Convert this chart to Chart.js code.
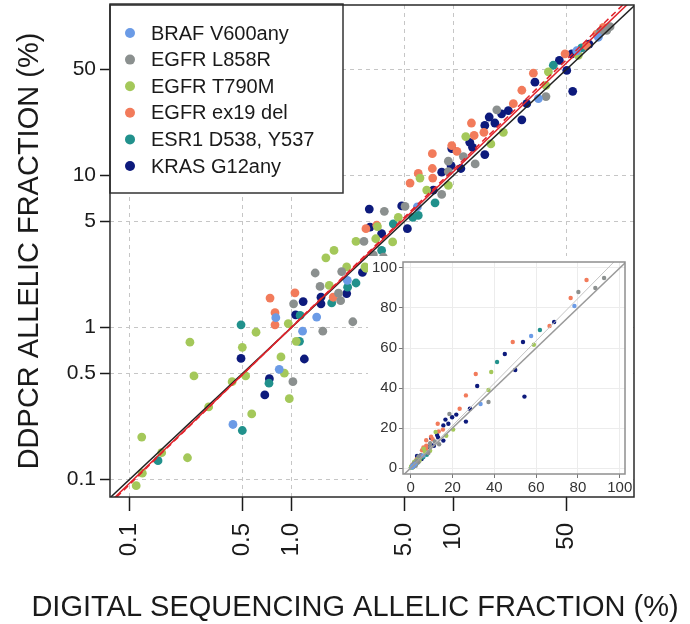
<!DOCTYPE html>
<html>
<head>
<meta charset="utf-8">
<script src="https://cdn.jsdelivr.net/npm/chart.js@4.4.0/dist/chart.umd.min.js"></script>
<style>
  html, body { margin: 0; padding: 0; background: #fff; }
  #wrap { position: relative; width: 690px; height: 624px; }
  #mainChart { position: absolute; left: 0; top: 0; }
  #insetBox { position: absolute; left: 368px; top: 256px; width: 265px; height: 240px; background: #fff; }
</style>
</head>
<body>
<div id="wrap">
  <canvas id="mainChart" width="690" height="624"></canvas>
  <div id="insetBox"><canvas id="insetChart" width="265" height="240"></canvas></div>
</div>
<script>
// values (percent)
const brafX = [0.435, 0.80, 1.43, 1.17, 0.84, 2.21, 5.98, 33.4, 57.6, 78.3];
const brafY = [0.23, 1.16, 1.17, 0.945, 0.53, 2.04, 6.2, 32, 66, 81];

const l858rX = [1.40, 2.04, 1.50, 1.95, 2.01, 1.03, 1.56, 2.39, 1.02, 3.74, 2.80, 18.5, 11.5, 13.6, 9.29, 9.29, 8.45, 5.02, 37.2, 80.2, 92.5, 88.3, 3.20, 3.69];
const l858rY = [2.28, 2.33, 1.86, 1.68, 1.50, 1.43, 0.945, 1.09, 0.44, 5.8, 3.68, 27, 13.3, 11.9, 12.4, 10.6, 7.5, 6.25, 33, 88, 95, 90, 3.0, 2.9];

const t790mX = [0.604, 0.236, 0.497, 0.25, 0.43, 0.521, 0.308, 0.568, 0.119, 0.228, 0.158, 0.12, 0.110, 2.19, 2.84, 1.71, 0.955, 1.07, 0.861, 0.903, 0.969, 3.39, 3.31, 2.50, 1.83, 1.63, 2.88, 11.9, 20.3, 17.0, 6.21, 9.29, 6.83, 4.56, 4.21, 38.5, 58.9, 37.2];
const t790mY = [0.93, 0.80, 0.74, 0.48, 0.44, 0.48, 0.30, 0.27, 0.19, 0.139, 0.15, 0.11, 0.091, 2.5, 2.5, 1.89, 1.06, 0.81, 0.64, 0.50, 0.34, 4.6, 3.83, 3.68, 3.21, 2.87, 2.45, 18.0, 19.2, 16.1, 9.6, 8.6, 8.0, 5.3, 3.65, 48, 61.6, 39];

const ex19X = [0.737, 1.05, 1.81, 0.791, 0.791, 2.88, 3.36, 12.9, 13.4, 15.4, 9.75, 10.5, 7.40, 7.40, 6.06, 7.44, 5.39, 48.8, 31.1, 26.4, 23.4, 66.4, 76.5, 84.1];
const ex19Y = [1.56, 1.69, 1.58, 1.25, 1.04, 4.46, 4.7, 22.1, 18.3, 19.2, 15.7, 14.4, 13.9, 11.1, 10.3, 9.6, 8.9, 63, 47, 36.3, 29.6, 71, 85, 94];

const esr1X = [0.488, 0.726, 0.497, 0.150, 2.50, 2.22, 1.77, 1.13, 1.12, 3.60, 4.25, 7.69, 6.06, 5.60, 41.3, 61.8];
const esr1Y = [1.04, 0.43, 0.21, 0.133, 1.96, 1.84, 1.45, 1.20, 0.81, 3.21, 4.8, 6.6, 5.45, 5.3, 53, 69];

const krasX = [0.488, 0.73, 0.684, 2.74, 2.19, 1.52, 1.52, 1.18, 1.06, 1.20, 3.02, 3.05, 3.60, 16.6, 15.6, 18.0, 19.8, 12.6, 13.1, 9.75, 15.6, 11.1, 9.66, 8.45, 7.50, 4.79, 5.19, 54.4, 45.0, 53.7, 31.8, 28.3, 26.4, 21.8, 50.0, 68.6];
const krasY = [0.625, 0.46, 0.36, 2.3, 1.67, 1.58, 1.43, 1.48, 1.21, 0.62, 6.0, 4.57, 4.14, 24.2, 21.3, 22.1, 25.4, 16.5, 15.3, 15.0, 13.7, 11.1, 11.6, 10.5, 8.0, 6.3, 4.46, 35.7, 57, 63, 41, 29.6, 23.2, 26.7, 49, 73];

// identity and fitted lines (end points)
const diagX = [0.05, 200];
const diagY = [0.05, 200];
const fitX = [0.05, 200];
const fitY = [0.0464, 228.3];
const fitDashX = [0.05, 200];
const fitDashY = [0.0452, 243.4];

const insetDiagX = [-5, 110];
const insetDiagY = [-5, 110];
const insetFitX = [-5, 110];
const insetFitY = [-5.3, 116.6];

const xTickVals = [0.1, 0.5, 1, 5, 10, 50];
const xTickText = ['0.1', '0.5', '1.0', '5.0', '10', '50'];
const yTickVals = [0.1, 0.5, 1, 5, 10, 50];
const yTickText = ['0.1', '0.5', '1', '5', '10', '50'];
const insetTicks = [0, 20, 40, 60, 80, 100];

const FONT = "'Liberation Sans', Arial, Helvetica, sans-serif";
Chart.defaults.font.family = FONT;
Chart.defaults.color = '#1a1a1a';

const series = [
  {label: 'BRAF V600any', xs: brafX, ys: brafY, color: '#6b9be6'},
  {label: 'EGFR L858R', xs: l858rX, ys: l858rY, color: '#8b908f'},
  {label: 'EGFR T790M', xs: t790mX, ys: t790mY, color: '#a4c85a'},
  {label: 'EGFR ex19 del', xs: ex19X, ys: ex19Y, color: '#f27b5b'},
  {label: 'ESR1 D538, Y537', xs: esr1X, ys: esr1Y, color: '#21918c'},
  {label: 'KRAS G12any', xs: krasX, ys: krasY, color: '#0d1a7c'}
];

function toPoints(xs, ys) {
  return xs.map((x, i) => ({x: x, y: ys[i]}));
}

// keep the plot box where it is, label overhang is not needed
function noOverhang(scale) {
  scale.paddingTop = 0;
  scale.paddingBottom = 0;
  scale.paddingLeft = 0;
  scale.paddingRight = 0;
}

const framePlugin = {
  id: 'frame',
  afterDraw(chart, args, opts) {
    const {ctx, chartArea: a} = chart;
    ctx.save();
    ctx.strokeStyle = opts.color;
    ctx.lineWidth = opts.width;
    ctx.strokeRect(a.left, a.top, a.right - a.left, a.bottom - a.top);
    ctx.restore();
  }
};

const boxLegend = {
  id: 'boxLegend',
  afterDatasetsDraw(chart, args, opts) {
    if (!opts.show) return;
    const {ctx, chartArea: a} = chart;
    const items = chart.data.datasets.filter(d => d.inLegend);
    ctx.save();
    ctx.fillStyle = '#fff';
    ctx.fillRect(a.left, a.top - 1, opts.width, opts.height);
    ctx.strokeStyle = '#333';
    ctx.lineWidth = 1.5;
    ctx.strokeRect(a.left, a.top - 1, opts.width, opts.height);
    ctx.font = opts.fontSize + 'px ' + FONT;
    ctx.textBaseline = 'middle';
    ctx.textAlign = 'left';
    items.forEach((d, i) => {
      const y = a.top + opts.firstRow + i * opts.rowGap;
      ctx.fillStyle = d.backgroundColor;
      ctx.beginPath();
      ctx.arc(a.left + 20, y, 5, 0, Math.PI * 2);
      ctx.fill();
      ctx.fillStyle = '#1a1a1a';
      ctx.fillText(d.label, a.left + 41, y + 1);
    });
    ctx.restore();
  }
};

const axisTitles = {
  id: 'axisTitles',
  afterDraw(chart, args, opts) {
    if (!opts.show) return;
    const ctx = chart.ctx;
    ctx.save();
    ctx.fillStyle = '#1a1a1a';
    ctx.textAlign = 'center';
    ctx.textBaseline = 'middle';
    ctx.font = opts.xSize + 'px ' + FONT;
    ctx.fillText(opts.xText, opts.xAt[0], opts.xAt[1]);
    ctx.translate(opts.yAt[0], opts.yAt[1]);
    ctx.rotate(-Math.PI / 2);
    ctx.font = opts.ySize + 'px ' + FONT;
    ctx.fillText(opts.yText, 0, 0);
    ctx.restore();
  }
};

const mainSets = series.map(s => ({
  label: s.label,
  data: toPoints(s.xs, s.ys),
  backgroundColor: s.color,
  borderWidth: 0,
  pointRadius: 4.4,
  inLegend: true,
  order: 2
}));
mainSets.push(
  {type: 'line', label: 'identity', data: toPoints(diagX, diagY), borderColor: '#222', borderWidth: 1.5, pointRadius: 0, order: 1},
  {type: 'line', label: 'fit', data: toPoints(fitX, fitY), borderColor: '#e0232b', borderWidth: 1.5, pointRadius: 0, order: 0},
  {type: 'line', label: 'fit2', data: toPoints(fitDashX, fitDashY), borderColor: '#e0232b', borderWidth: 1.5, borderDash: [6, 4], pointRadius: 0, order: 0}
);

new Chart(document.getElementById('mainChart'), {
  type: 'scatter',
  data: {datasets: mainSets},
  options: {
    responsive: false,
    animation: false,
    layout: {padding: {top: 5, right: 56, left: 0, bottom: 0}},
    plugins: {
      legend: {display: false},
      tooltip: {enabled: false},
      frame: {color: '#2a2a2a', width: 1.5},
      boxLegend: {show: true, width: 233, height: 189, firstRow: 28, rowGap: 26.6, fontSize: 20},
      axisTitles: {
        show: true,
        xText: 'DIGITAL SEQUENCING ALLELIC FRACTION (%)', xSize: 29, xAt: [355, 608],
        yText: 'DDPCR ALLELIC FRACTION (%)', ySize: 29, yAt: [30, 251]
      }
    },
    scales: {
      x: {
        type: 'logarithmic',
        min: 0.0758,
        max: 130,
        afterBuildTicks: (axis) => { axis.ticks = xTickVals.map(v => ({value: v})); },
        afterFit: (scale) => { scale.height = 127; noOverhang(scale); },
        ticks: {
          autoSkip: false,
          minRotation: 90,
          maxRotation: 90,
          padding: 12,
          color: '#1a1a1a',
          font: {size: 24},
          callback: (value, index) => xTickText[index]
        },
        grid: {color: '#c6c6c6', lineWidth: 1, tickColor: '#1a1a1a', tickLength: 14, tickWidth: 1.5},
        border: {display: false, dash: [4, 4]}
      },
      y: {
        type: 'logarithmic',
        min: 0.0767,
        max: 132,
        afterBuildTicks: (axis) => { axis.ticks = yTickVals.map(v => ({value: v})); },
        afterFit: (scale) => { scale.width = 110; noOverhang(scale); },
        ticks: {
          autoSkip: false,
          padding: 4,
          color: '#1a1a1a',
          font: {size: 21},
          callback: (value, index) => yTickText[index]
        },
        grid: {color: '#c6c6c6', lineWidth: 1, tickColor: '#1a1a1a', tickLength: 10, tickWidth: 1.5},
        border: {display: false, dash: [4, 4]}
      }
    }
  },
  plugins: [framePlugin, boxLegend, axisTitles]
});

const insetSets = series.map(s => ({
  label: s.label,
  data: toPoints(s.xs, s.ys),
  backgroundColor: s.color,
  borderWidth: 0,
  pointRadius: 2.2,
  order: 2
}));
insetSets.push(
  {type: 'line', label: 'identity', data: toPoints(insetDiagX, insetDiagY), borderColor: '#9a9a9a', borderWidth: 1.5, pointRadius: 0, order: 1},
  {type: 'line', label: 'fit', data: toPoints(insetFitX, insetFitY), borderColor: '#c4c4c4', borderWidth: 1, pointRadius: 0, order: 1}
);

new Chart(document.getElementById('insetChart'), {
  type: 'scatter',
  data: {datasets: insetSets},
  options: {
    responsive: false,
    animation: false,
    layout: {padding: {top: 6, right: 8, left: 0, bottom: 0}},
    plugins: {
      legend: {display: false},
      tooltip: {enabled: false},
      frame: {color: '#8f8f8f', width: 1.5},
      boxLegend: {show: false},
      axisTitles: {show: false}
    },
    scales: {
      x: {
        type: 'linear',
        min: -3.7,
        max: 102.5,
        afterBuildTicks: (axis) => { axis.ticks = insetTicks.map(v => ({value: v})); },
        afterFit: (scale) => { scale.height = 22; noOverhang(scale); },
        ticks: {autoSkip: false, maxRotation: 0, padding: 1, color: '#333', font: {size: 15}},
        grid: {color: '#ececec', lineWidth: 1, tickColor: '#777', tickLength: 4},
        border: {display: false}
      },
      y: {
        type: 'linear',
        min: -3,
        max: 103,
        afterBuildTicks: (axis) => { axis.ticks = insetTicks.map(v => ({value: v})); },
        afterFit: (scale) => { scale.width = 35; noOverhang(scale); },
        ticks: {autoSkip: false, padding: 2, color: '#333', font: {size: 15}},
        grid: {color: '#ececec', lineWidth: 1, tickColor: '#777', tickLength: 4},
        border: {display: false}
      }
    }
  },
  plugins: [framePlugin, boxLegend, axisTitles]
});
</script>
</body>
</html>
